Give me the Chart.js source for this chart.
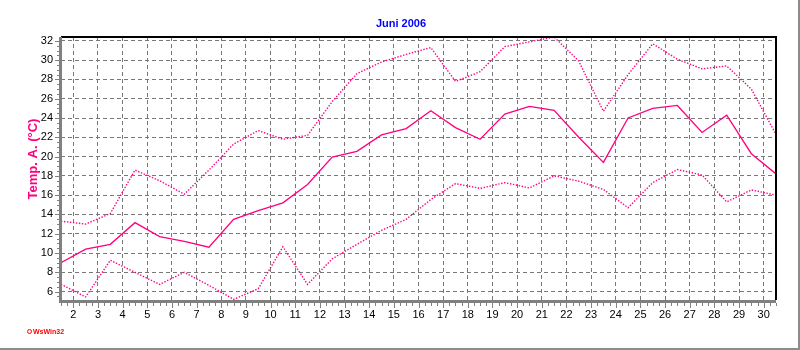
<!DOCTYPE html>
<html>
<head>
<meta charset="utf-8">
<script src="https://cdn.jsdelivr.net/npm/chart.js@4.4.0/dist/chart.umd.min.js"></script>
<style>
  body { margin: 0; background: #fff; }
  canvas { display: block; }
</style>
</head>
<body>
<canvas id="tempChart" width="800" height="350"></canvas>
<script>
// Juni 2006 - daily air temperature (max / mean / min), °C
const days = [1, 2, 3, 4, 5, 6, 7, 8, 9, 10, 11, 12, 13, 14, 15, 16, 17, 18, 19, 20, 21, 22, 23, 24, 25, 26, 27, 28, 29, 30];
const tempMax = [13.3, 13.0, 14.1, 18.6, 17.5, 16.1, 18.6, 21.3, 22.7, 21.8, 22.2, 25.7, 28.6, 29.8, 30.6, 31.3, 27.8, 28.8, 31.4, 31.9, 32.4, 29.9, 24.7, 28.5, 31.7, 30.1, 29.1, 29.4, 27.0, 22.3];
const tempMean = [9.0, 10.4, 10.9, 13.15, 11.7, 11.2, 10.6, 13.5, 14.4, 15.2, 17.1, 19.95, 20.55, 22.25, 22.9, 24.75, 23.0, 21.8, 24.4, 25.2, 24.8, 22.0, 19.4, 24.0, 25.0, 25.3, 22.5, 24.3, 20.3, 18.2];
const tempMin = [6.75, 5.45, 9.25, 8.0, 6.75, 8.0, 6.65, 5.2, 6.3, 10.65, 6.75, 9.4, 10.9, 12.35, 13.5, 15.55, 17.2, 16.7, 17.3, 16.75, 18.0, 17.45, 16.6, 14.7, 17.3, 18.65, 18.1, 15.3, 16.55, 16.0];
const xTicks = [2, 3, 4, 5, 6, 7, 8, 9, 10, 11, 12, 13, 14, 15, 16, 17, 18, 19, 20, 21, 22, 23, 24, 25, 26, 27, 28, 29, 30];
const yTicks = [6, 8, 10, 12, 14, 16, 18, 20, 22, 24, 26, 28, 30, 32];

const lineColor = 'rgb(255, 0, 128)';

// each daily value sits in the middle of its day
const toPoints = (vals) => vals.map((v, i) => ({ x: days[i] + 0.5, y: v }));

const framePlugin = {
    id: 'frame',
    afterDraw(chart) {
        const { ctx, chartArea: a, scales: { x, y } } = chart;
        ctx.save();

        // top / right frame
        ctx.strokeStyle = '#000';
        ctx.lineWidth = 2;
        ctx.beginPath();
        ctx.moveTo(a.left, a.top);
        ctx.lineTo(a.right, a.top);
        ctx.lineTo(a.right, a.bottom);
        ctx.stroke();

        // thick grey axes left / bottom
        ctx.strokeStyle = '#808080';
        ctx.lineWidth = 3;
        ctx.beginPath();
        ctx.moveTo(a.left - 0.5, a.top);
        ctx.lineTo(a.left - 0.5, a.bottom + 1.5);
        ctx.lineTo(a.right, a.bottom + 1.5);
        ctx.stroke();

        // minor ticks
        ctx.lineWidth = 1;
        for (let k = Math.ceil(x.min * 4); k <= Math.floor(x.max * 4); k++) {
            const px = Math.round(x.getPixelForValue(k / 4)) + 0.5;
            const len = k % 4 === 0 ? 5 : 3;
            ctx.beginPath();
            ctx.moveTo(px, a.bottom + 3);
            ctx.lineTo(px, a.bottom + 3 + len);
            ctx.stroke();
        }
        for (let k = Math.ceil(y.min * 2); k <= Math.floor(y.max * 2); k++) {
            const py = Math.round(y.getPixelForValue(k / 2)) + 0.5;
            const len = k % 4 === 0 ? 4 : 2;
            ctx.beginPath();
            ctx.moveTo(a.left - 2, py);
            ctx.lineTo(a.left - 2 - len, py);
            ctx.stroke();
        }

        // outer border right / bottom
        ctx.strokeStyle = '#8c8c8c';
        ctx.lineWidth = 2;
        ctx.beginPath();
        ctx.moveTo(799, 0);
        ctx.lineTo(799, 349);
        ctx.lineTo(0, 349);
        ctx.stroke();

        // texts
        ctx.textAlign = 'center';
        ctx.textBaseline = 'middle';
        ctx.fillStyle = '#0000ff';
        ctx.font = 'bold 11px "Liberation Sans", Arial, sans-serif';
        ctx.fillText('Juni 2006', 401, 23.5);

        ctx.save();
        ctx.translate(33, 159);
        ctx.rotate(-Math.PI / 2);
        ctx.fillStyle = lineColor;
        ctx.font = 'bold 13px "Liberation Sans", Arial, sans-serif';
        ctx.fillText('Temp. A. (°C)', 0, 0);
        ctx.restore();

        // WsWin32 mark
        ctx.strokeStyle = '#ff0000';
        ctx.fillStyle = '#ff0000';
        ctx.lineWidth = 1;
        ctx.beginPath();
        ctx.arc(29.5, 331.5, 2, 0, Math.PI * 2);
        ctx.stroke();
        ctx.textAlign = 'left';
        ctx.font = 'bold 7px "Liberation Sans", Arial, sans-serif';
        ctx.fillText('WsWin32', 33, 332);

        ctx.restore();
    }
};

const ctx = document.getElementById('tempChart').getContext('2d');
new Chart(ctx, {
    type: 'line',
    data: {
        datasets: [
            {
                label: 'Mittel',
                data: toPoints(tempMean),
                borderColor: lineColor,
                borderWidth: 1.3,
                pointRadius: 0,
                tension: 0,
            },
            {
                label: 'Max',
                data: toPoints(tempMax),
                borderColor: lineColor,
                borderWidth: 1.4,
                borderDash: [1.4, 1.6],
                pointRadius: 0,
                tension: 0,
            },
            {
                label: 'Min',
                data: toPoints(tempMin),
                borderColor: lineColor,
                borderWidth: 1.4,
                borderDash: [1.4, 1.6],
                pointRadius: 0,
                tension: 0,
            }
        ]
    },
    options: {
        responsive: false,
        animation: false,
        devicePixelRatio: 1,
        layout: { padding: { top: 37, right: 24, bottom: 0, left: 0 } },
        plugins: {
            legend: { display: false },
            title: { display: false },
            tooltip: { enabled: false }
        },
        scales: {
            x: {
                type: 'linear',
                min: 1.5,
                max: 30.5,
                afterFit: (s) => { s.height = 50; },
                afterBuildTicks: (s) => { s.ticks = xTicks.map(v => ({ value: v })); },
                grid: { color: '#787878', lineWidth: 1, drawTicks: false },
                border: { display: false, dash: [4, 3] },
                ticks: {
                    autoSkip: false,
                    maxRotation: 0,
                    padding: 8,
                    color: '#000',
                    font: { family: '"Liberation Sans", Arial, sans-serif', size: 11 }
                }
            },
            y: {
                min: 5.13,
                max: 32.4,
                afterFit: (s) => { s.width = 61; },
                afterBuildTicks: (s) => { s.ticks = yTicks.map(v => ({ value: v })); },
                grid: { color: '#787878', lineWidth: 1, drawTicks: false },
                border: { display: false, dash: [4, 3] },
                ticks: {
                    padding: 8,
                    color: '#000',
                    font: { family: '"Liberation Sans", Arial, sans-serif', size: 11 }
                }
            }
        }
    },
    plugins: [framePlugin]
});
</script>
</body>
</html>
